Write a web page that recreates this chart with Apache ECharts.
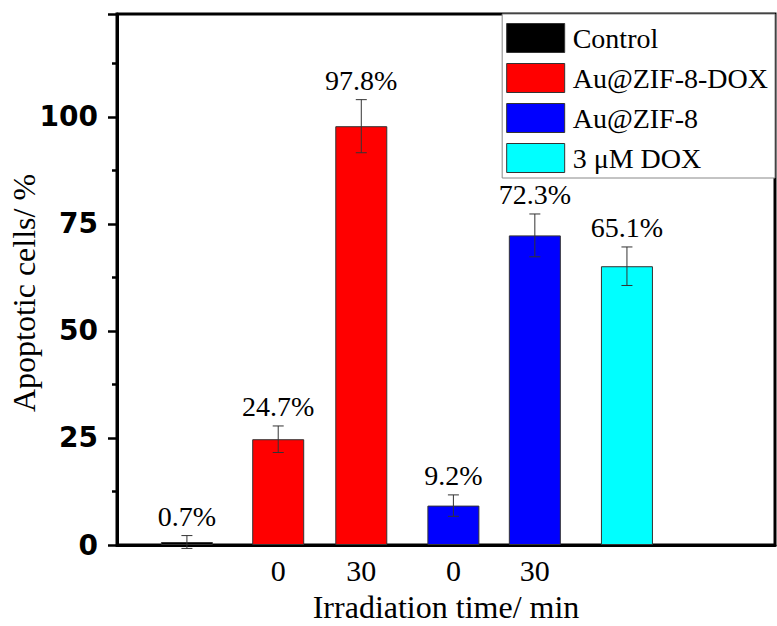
<!DOCTYPE html>
<html>
<head>
<meta charset="utf-8">
<script src="https://cdn.jsdelivr.net/npm/echarts@6/dist/echarts.min.js"></script>
<style>
  html, body { margin: 0; padding: 0; background: #fff; }
  #apoptosisChart { width: 777px; height: 626px; }
</style>
</head>
<body>
<div id="apoptosisChart"></div>
<script>
  // 数据
  const groups = ['Control', 'Au@ZIF-8-DOX', 'Au@ZIF-8', '3 μM DOX'];
  const groupColors = ['#000000', '#ff0000', '#0000ff', '#00ffff'];
  const barGroup = [0, 1, 1, 2, 2, 3];
  const barPos = [0.85, 1.96, 2.97, 4.09, 5.08, 6.20];
  const apoptotic = [0.7, 24.7, 97.8, 9.2, 72.3, 65.1];
  const errors = [1.5, 3.1, 6.2, 2.5, 5.0, 4.5];
  const timeLabels = ['', '0', '30', '0', '30', ''];

  const serif = "'Liberation Serif', 'Times New Roman', serif";

  const labelPos = barPos.filter((x, i) => timeLabels[i] !== '');

  const barSeries = groups.map((g, gi) => ({
    name: g,
    type: 'bar',
    barWidth: 52,
    barGap: '-100%',
    itemStyle: {
      color: groupColors[gi],
      borderColor: '#333',
      borderWidth: 1
    },
    data: barPos
      .map((x, i) => barGroup[i] === gi ? [x, apoptotic[i]] : null)
      .filter(d => d)
  }));

  const errorSeries = {
    name: 'error',
    type: 'custom',
    z: 5,
    data: barPos.map((x, i) => [x, apoptotic[i], errors[i]]),
    renderItem: function (params, api) {
      const x = api.value(0);
      const v = api.value(1);
      const e = api.value(2);
      const top = api.coord([x, v + e]);
      const bot = api.coord([x, v - e]);
      const cap = 5.5;
      const ls = { stroke: '#333', lineWidth: 1 };
      return {
        type: 'group',
        children: [
          { type: 'line', shape: { x1: top[0], y1: top[1], x2: bot[0], y2: bot[1] }, style: ls },
          { type: 'line', shape: { x1: top[0] - cap, y1: top[1], x2: top[0] + cap, y2: top[1] }, style: ls },
          { type: 'line', shape: { x1: bot[0] - cap, y1: bot[1], x2: bot[0] + cap, y2: bot[1] }, style: ls },
          {
            type: 'text',
            style: {
              text: v.toFixed(1) + '%',
              x: top[0],
              y: top[1] - 5,
              align: 'center',
              verticalAlign: 'bottom',
              fontSize: 28,
              fontFamily: serif,
              fill: '#000'
            }
          }
        ]
      };
    }
  };

  const chart = echarts.init(document.getElementById('apoptosisChart'), null, { renderer: 'svg' });
  chart.setOption({
    animation: false,
    backgroundColor: '#fff',
    grid: {
      left: 117, right: 2, top: 14, bottom: 81,
      outerBoundsMode: 'none',
      containLabel: false,
      show: true,
      borderColor: '#000',
      borderWidth: 3
    },
    legend: {
      data: groups,
      orient: 'vertical',
      right: 2,
      top: 14,
      icon: 'rect',
      itemWidth: 58,
      itemHeight: 29,
      itemGap: 10,
      padding: [9, 7, 5, 4],
      borderColor: '#888',
      borderWidth: 1,
      backgroundColor: '#fff',
      itemStyle: { borderColor: '#333', borderWidth: 1 },
      textStyle: { fontSize: 28, lineHeight: 29, fontFamily: serif, color: '#000', padding: [0, 0, 0, 3] }
    },
    xAxis: {
      type: 'value',
      min: 0,
      max: 8,
      splitLine: { show: false },
      axisLine: { show: true, lineStyle: { color: '#000', width: 3 } },
      axisTick: { show: false },
      axisLabel: {
        customValues: labelPos,
        margin: 10,
        fontSize: 30,
        fontFamily: serif,
        color: '#000',
        formatter: v => timeLabels[barPos.indexOf(v)]
      },
      name: 'Irradiation time/ min',
      nameLocation: 'middle',
      nameGap: 46,
      nameMoveOverlap: false,
      nameTextStyle: { fontSize: 32, fontFamily: serif, color: '#000' }
    },
    yAxis: {
      type: 'value',
      min: 0,
      max: 124,
      interval: 25,
      splitLine: { show: false },
      axisLine: { show: true, lineStyle: { color: '#000', width: 3 } },
      axisTick: { show: true, length: 9, lineStyle: { color: '#000', width: 2.5 } },
      minorTick: { show: true, splitNumber: 2, length: 5, lineStyle: { color: '#000', width: 2.5 } },
      axisLabel: {
        margin: 19,
        showMaxLabel: false,
        fontSize: 28,
        fontWeight: 'bold',
        fontFamily: "'DejaVu Sans', sans-serif",
        color: '#000'
      },
      name: 'Apoptotic cells/ %',
      nameLocation: 'middle',
      nameGap: 77,
      nameMoveOverlap: false,
      nameTextStyle: { fontSize: 32, fontFamily: serif, color: '#000', padding: [0, 27, 0, 0] }
    },
    series: barSeries.concat([errorSeries])
  });
</script>
</body>
</html>
